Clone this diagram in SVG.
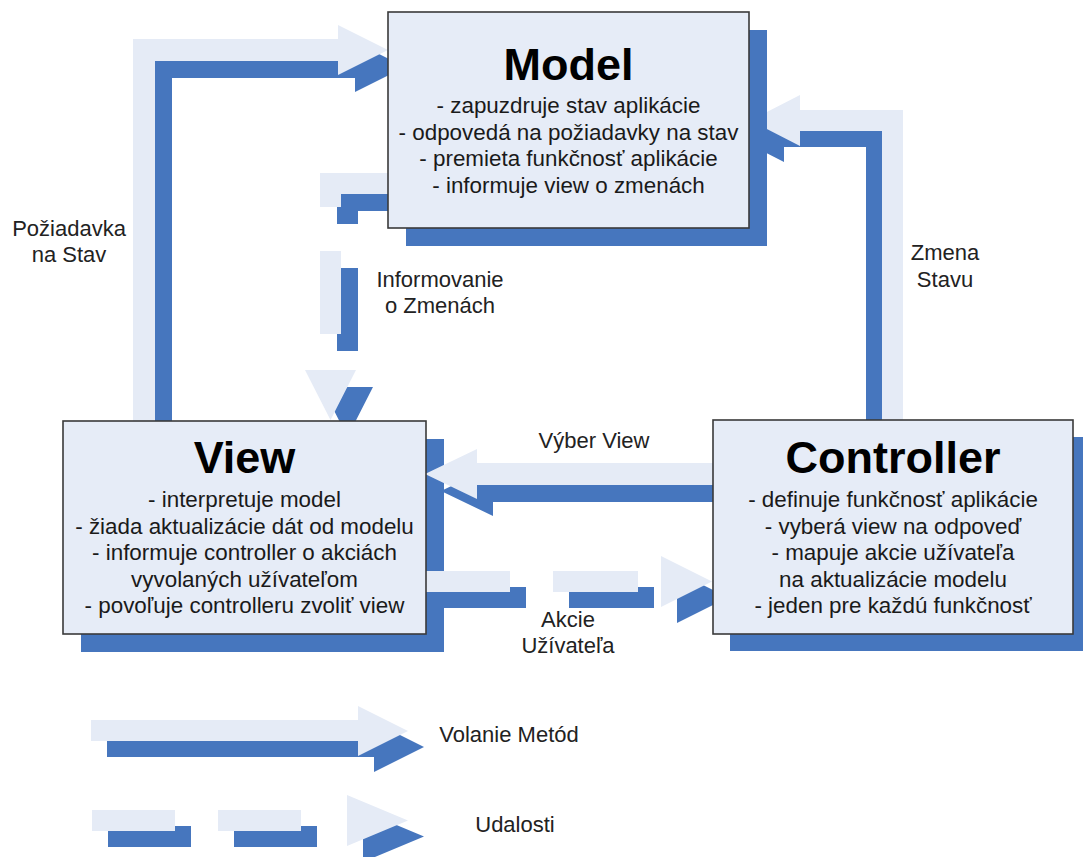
<svg xmlns="http://www.w3.org/2000/svg" xmlns:xlink="http://www.w3.org/1999/xlink" width="1083" height="857" viewBox="0 0 1083 857">
<style>
.lt{fill:#E5EBF6}
.dk{fill:#4676BE}
.box{fill:#E6ECF7;stroke:#3a3a3a;stroke-width:1.6}
.sh{fill:#4676BE}
.ttl{font-family:"Liberation Sans",Arial,sans-serif;font-weight:bold;font-size:45px;fill:#000;text-anchor:middle}
.bd{font-family:"Liberation Sans",Arial,sans-serif;font-size:22.4px;fill:#1a1a1a;text-anchor:middle}
.lb{font-family:"Liberation Sans",Arial,sans-serif;font-size:22px;fill:#222;text-anchor:middle}
</style>
<defs>
<path id="a1" d="M133,421 V39 H338 V25 L388,50 L338,75 V61 H155 V421 Z"/>
<path id="a2" d="M903,420 V110 H800 V95 L750,120.5 L800,146 V131 H882 V420 Z"/>
<path id="a3" d="M713,463 H477 V449 L425,474 L477,499 V485 H713 Z"/>
<path id="a4" d="M420,571 H510 V592 H420 Z M553,571 H638 V592 H553 Z M661,556 L712,581.5 L661,607 Z"/>
<path id="a5" d="M395,173 H320 V207 H341 V194 H395 Z M320,251 H341 V334 H320 Z M305,370 H356 L330.5,420 Z"/>
<path id="l1" d="M91,720 H358 V706 L408,731 L358,756 V741 H91 Z"/>
<path id="l2" d="M92,810 H175 V831 H92 Z M218,810 H301 V831 H218 Z M347,795 L408,820.5 L347,846 Z"/>
</defs>
<rect width="1083" height="857" fill="#fff"/>
<g id="view-shadow"><rect class="sh" x="81" y="439" width="363" height="213"/></g>
<g id="controller-shadow"><rect class="sh" x="730" y="437" width="360" height="214"/></g>
<g id="connectors">
<use xlink:href="#a1" class="dk" transform="translate(17,17)"/>
<use xlink:href="#a1" class="lt"/>
<use xlink:href="#a2" class="dk" transform="translate(-16,16)"/>
<use xlink:href="#a2" class="lt"/>
<use xlink:href="#a3" class="dk" transform="translate(16,17)"/>
<use xlink:href="#a3" class="lt"/>
<use xlink:href="#a4" class="dk" transform="translate(16,16)"/>
<use xlink:href="#a4" class="lt"/>
<use xlink:href="#a5" class="dk" transform="translate(17,17)"/>
<use xlink:href="#a5" class="lt"/>
<text class="lb" x="69" y="236">Požiadavka</text>
<text class="lb" x="69" y="262">na Stav</text>
<text class="lb" x="440" y="287">Informovanie</text>
<text class="lb" x="440" y="313">o Zmenách</text>
<text class="lb" x="945" y="260">Zmena</text>
<text class="lb" x="945" y="287">Stavu</text>
<text class="lb" x="594" y="448">Výber View</text>
<text class="lb" x="568" y="627">Akcie</text>
<text class="lb" x="568" y="653">Užívateľa</text>
</g>
<g id="model">
<rect class="sh" x="406" y="30" width="361" height="216"/>
<rect class="box" x="388" y="12" width="361" height="216"/>
<text class="ttl" x="568.5" y="80">Model</text>
<text class="bd" x="568.5" y="113">- zapuzdruje stav aplikácie</text>
<text class="bd" x="568.5" y="139.5">- odpovedá na požiadavky na stav</text>
<text class="bd" x="568.5" y="166">- premieta funkčnosť aplikácie</text>
<text class="bd" x="568.5" y="192.5">- informuje view o zmenách</text>
</g>
<g id="view">
<rect class="box" x="63" y="421" width="363" height="213"/>
<text class="ttl" x="244.5" y="473">View</text>
<text class="bd" x="244.5" y="507">- interpretuje model</text>
<text class="bd" x="244.5" y="533.5">- žiada aktualizácie dát od modelu</text>
<text class="bd" x="244.5" y="560">- informuje controller o akciách</text>
<text class="bd" x="244.5" y="586.5">vyvolaných užívateľom</text>
<text class="bd" x="244.5" y="613">- povoľuje controlleru zvoliť view</text>
</g>
<g id="controller">
<rect class="box" x="713" y="420" width="360" height="214"/>
<text class="ttl" x="893" y="473">Controller</text>
<text class="bd" x="893" y="507">- definuje funkčnosť aplikácie</text>
<text class="bd" x="893" y="533.5">- vyberá view na odpoveď</text>
<text class="bd" x="893" y="560">- mapuje akcie užívateľa</text>
<text class="bd" x="893" y="586.5">na aktualizácie modelu</text>
<text class="bd" x="893" y="613">- jeden pre každú funkčnosť</text>
</g>
<g id="legend">
<use xlink:href="#l1" class="dk" transform="translate(16,16)"/>
<use xlink:href="#l1" class="lt"/>
<use xlink:href="#l2" class="dk" transform="translate(16,16)"/>
<use xlink:href="#l2" class="lt"/>
<text class="lb" x="509" y="742">Volanie Metód</text>
<text class="lb" x="515" y="832">Udalosti</text>
</g>
</svg>
